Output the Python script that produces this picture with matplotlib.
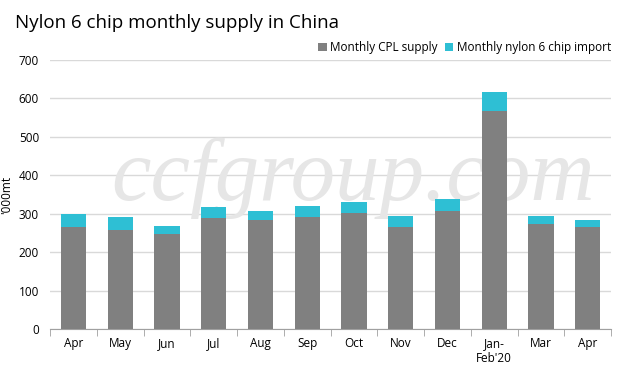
import matplotlib.pyplot as plt
import numpy as np

# data
months = ['Apr', 'May', 'Jun', 'Jul', 'Aug', 'Sep', 'Oct', 'Nov', 'Dec', "Jan-\nFeb'20", 'Mar', 'Apr']
cpl_supply = [265, 258, 247, 289, 284, 291, 302, 265, 307, 567, 273, 265]
chip_import = [35, 33, 21, 28, 23, 29, 28, 29, 31, 50, 21, 19]

plt.rcParams['font.family'] = ['Open Sans', 'DejaVu Sans']

fig = plt.figure(figsize=(6.42, 3.80), dpi=100)
ax = fig.add_axes([0.078, 0.134, 0.874, 0.708])

x = np.arange(len(months))
ax.bar(x, cpl_supply, width=0.54, color='#808080', label='Monthly CPL supply', zorder=3)
ax.bar(x, chip_import, width=0.54, bottom=cpl_supply, color='#2EBFD4',
       label='Monthly nylon 6 chip import', zorder=3)

ax.set_xlim(-0.5, len(months) - 0.5)
ax.set_ylim(0, 700)
ax.set_yticks(range(0, 701, 100))
ax.set_xticks(x)
ax.set_xticklabels(months, fontsize=8.5)
ax.tick_params(axis='y', labelsize=8.5, length=0, pad=8)
ax.tick_params(axis='x', length=0, pad=6)
# tick marks between categories
ax.set_xticks(np.arange(-0.5, len(months), 1), minor=True)
ax.tick_params(axis='x', which='minor', length=5, color='#A0A0A0', direction='out')

ax.grid(axis='y', color='#D9D9D9', linewidth=1, zorder=0)
ax.set_axisbelow(True)
for s in ['top', 'right', 'left']:
    ax.spines[s].set_visible(False)
ax.spines['bottom'].set_color('#A0A0A0')

ax.set_ylabel("'000mt", fontsize=8.5)
ax.yaxis.set_label_coords(-0.065, 0.5)

# watermark (between grid and bars)
ax.text(0.54, 0.56, 'ccfgroup.com', transform=ax.transAxes, fontsize=64,
        family='Liberation Serif', style='italic', color='#E6E6E6',
        ha='center', va='center', zorder=2)

fig.text(0.023, 0.94, 'Nylon 6 chip monthly supply in China', fontsize=13.5, va='center')
ax.legend(loc='lower right', bbox_to_anchor=(1.01, 1.0), ncol=2, frameon=False,
          fontsize=8.5, handlelength=0.7, handleheight=0.7, handletextpad=0.3,
          columnspacing=0.6, borderaxespad=0.1)

plt.savefig('out.png', dpi=100)
